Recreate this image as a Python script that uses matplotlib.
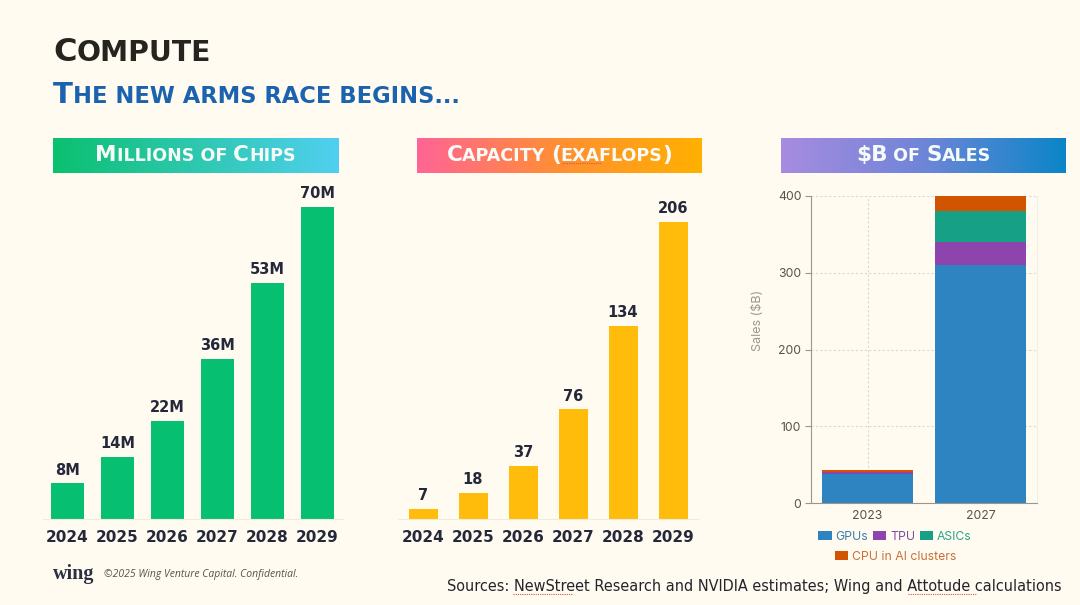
import numpy as np
from matplotlib import pyplot as plt
from matplotlib.colors import LinearSegmentedColormap
from matplotlib.lines import Line2D

W, H = 1080, 605
BG = '#FFFBF0'

years = ['2024', '2025', '2026', '2027', '2028', '2029']
chips = [8, 14, 22, 36, 53, 70]
chip_labels = ['8M', '14M', '22M', '36M', '53M', '70M']
capacity = [7, 18, 37, 76, 134, 206]
capacity_labels = ['7', '18', '37', '76', '134', '206']

sales_years = ['2023', '2027']
gpus = [38, 310]
tpu = [2, 30]
asics = [1, 40]
cpu = [2, 20]
sales_ticks = [0, 100, 200, 300, 400]

plt.rcParams['font.family'] = 'DejaVu Sans'
fig = plt.figure(figsize=(W / 100, H / 100), dpi=100, facecolor=BG)


def box(x0, y0, x1, y1):
    '''pixel box (y down) to figure fractions'''
    return [x0 / W, 1 - y1 / H, (x1 - x0) / W, (y1 - y0) / H]


def is_small(c):
    return c.islower() or c in ' .'


def small_caps(x, y, text, big, small, color, center=False, **kw):
    '''small caps written piece by piece, y is the baseline in pixels'''
    pieces = []
    i = 0
    while i < len(text):
        j = i + 1
        while j < len(text) and is_small(text[j]) == is_small(text[i]):
            j += 1
        pieces.append(text[i:j])
        i = j
    renderer = fig.canvas.get_renderer()
    items = []
    total = 0
    for p in pieces:
        t = fig.text(0, 0, p.upper(), fontsize=small if is_small(p[0]) else big, color=color, va='baseline', **kw)
        w = t.get_window_extent(renderer).width
        items.append((t, w))
        total += w
    cur = x - total / 2 if center else x
    for t, w in items:
        t.set_position((cur / W, 1 - y / H))
        cur += w


def banner(x0, y0, x1, y1, colors, text):
    ax = fig.add_axes(box(x0, y0, x1, y1))
    cmap = LinearSegmentedColormap.from_list('band', colors)
    ax.imshow(np.linspace(0, 1, 256).reshape(1, -1), cmap=cmap, aspect='auto')
    ax.axis('off')
    small_caps((x0 + x1) / 2, y1 - 12, text, 15.5, 12.6, '#F6FBF8', center=True, zorder=5, fontweight='bold')


def year_bars(x0, x1, values, labels, ymax, color, width):
    ax = fig.add_axes(box(x0, 180, x1, 519))
    ax.patch.set_alpha(0)
    bars = ax.bar(years, values, width=width, color=color)
    ax.bar_label(bars, labels=labels, padding=4, fontsize=10.5, fontweight='bold', color='#24283A')
    ax.set_xlim(-0.5, 5.5)
    ax.set_ylim(0, ymax)
    ax.set_yticks([])
    for s in ['top', 'left', 'right']:
        ax.spines[s].set_visible(False)
    ax.spines['bottom'].set_color('#F0ECDD')
    ax.tick_params(axis='x', length=0, pad=8, labelsize=11, labelcolor='#24283A')
    for lab in ax.get_xticklabels():
        lab.set_fontweight('bold')
    return ax


# headers
small_caps(53, 61, 'Compute', 23, 20.3, '#25241F', fontweight='bold')
small_caps(53, 103, 'The new arms race begins...', 21, 16.3, '#1B63AE', fontweight='bold')

banner(53, 138, 338, 173, ['#0BC06F', '#50D0F0'], 'Millions of Chips')
banner(417, 138, 702, 173, ['#FF6496', '#FF8F33', '#FFB000'], 'Capacity (exaflops)')
banner(781, 138, 1066, 173, ['#A78CE0', '#6F85D8', '#0A86C8'], '$B of Sales')

# two year charts
year_bars(42.5, 342.5, chips, chip_labels, 339 / 312 * 70, '#07BF70', 0.66)
year_bars(398, 698, capacity, capacity_labels, 339 / 297 * 206, '#FFBC0A', 0.58)

# stacked sales chart
ax = fig.add_axes(box(811, 196, 1037, 503))
ax.patch.set_alpha(0)
series = [('GPUs', gpus, '#2E84C0', '#3C7FB0'),
          ('TPU', tpu, '#8E44AD', '#7D4CA8'),
          ('ASICs', asics, '#16A085', '#2AA58C'),
          ('CPU in AI clusters', cpu, '#D35400', '#C8703A')]
bottom = np.zeros(2)
handles = []
for name, vals, col, txt in series:
    handles.append(ax.bar(sales_years, vals, width=0.8, bottom=bottom, color=col, label=name, zorder=3))
    bottom += np.array(vals)
ax.set_xlim(-0.5, 1.5)
ax.set_ylim(0, 400)
ax.set_yticks(sales_ticks)
ax.grid(True, color='#DDD9C8', linestyle=(0, (2, 2)), linewidth=0.8, zorder=0)
ax.set_axisbelow(True)
ax.spines['top'].set_visible(False)
ax.spines['right'].set_color('#F2F0E6')
for s in ['left', 'bottom']:
    ax.spines[s].set_color('#99968B')
ax.tick_params(axis='both', length=4, color='#99968B', labelcolor='#55534D', labelsize=8.8, pad=3)
ax.tick_params(axis='x', length=0, pad=5)
for lab in ax.get_xticklabels() + ax.get_yticklabels():
    lab.set_fontfamily('Inter')
ax.set_ylabel('Sales ($B)', fontsize=9, color='#9A988E', family='Inter', labelpad=10, y=0.596)

legend_kw = dict(frameon=False, handlelength=1.1, handleheight=0.8, handletextpad=0.3,
                 columnspacing=0.4, borderpad=0, prop={'family': 'Inter', 'size': 8.8})
top = ax.legend(handles[:3], [s[0] for s in series[:3]], ncol=3, loc='center',
                bbox_to_anchor=(895 / W, 1 - 537 / H), bbox_transform=fig.transFigure,
                labelcolor=[s[3] for s in series[:3]], **legend_kw)
ax.add_artist(top)
ax.legend(handles[3:], [series[3][0]], loc='center',
          bbox_to_anchor=(895.5 / W, 1 - 557 / H), bbox_transform=fig.transFigure,
          labelcolor=series[3][3], **legend_kw)

# footer
fig.text(53 / W, 1 - 579 / H, 'wing', family='Liberation Serif', fontweight='bold', fontsize=14.5, color='#2A3242')
fig.text(104 / W, 1 - 577 / H, '©2025 Wing Venture Capital. Confidential.', family='Open Sans', style='italic',
         fontsize=7.5, color='#55534D')
fig.text(447 / W, 1 - 591 / H, 'Sources: NewStreet Research and NVIDIA estimates; Wing and Attotude calculations',
         fontsize=10.45, color='#24242A')

# spell-check underlines
for x0, x1, y in [(513, 573, 594), (908, 976, 594), (562, 602, 163)]:
    fig.add_artist(Line2D([x0 / W, x1 / W], [1 - y / H] * 2, color='#D9534F', linewidth=0.8, linestyle=(0, (1, 1))))

fig.savefig('out.png', dpi=100, facecolor=BG)
